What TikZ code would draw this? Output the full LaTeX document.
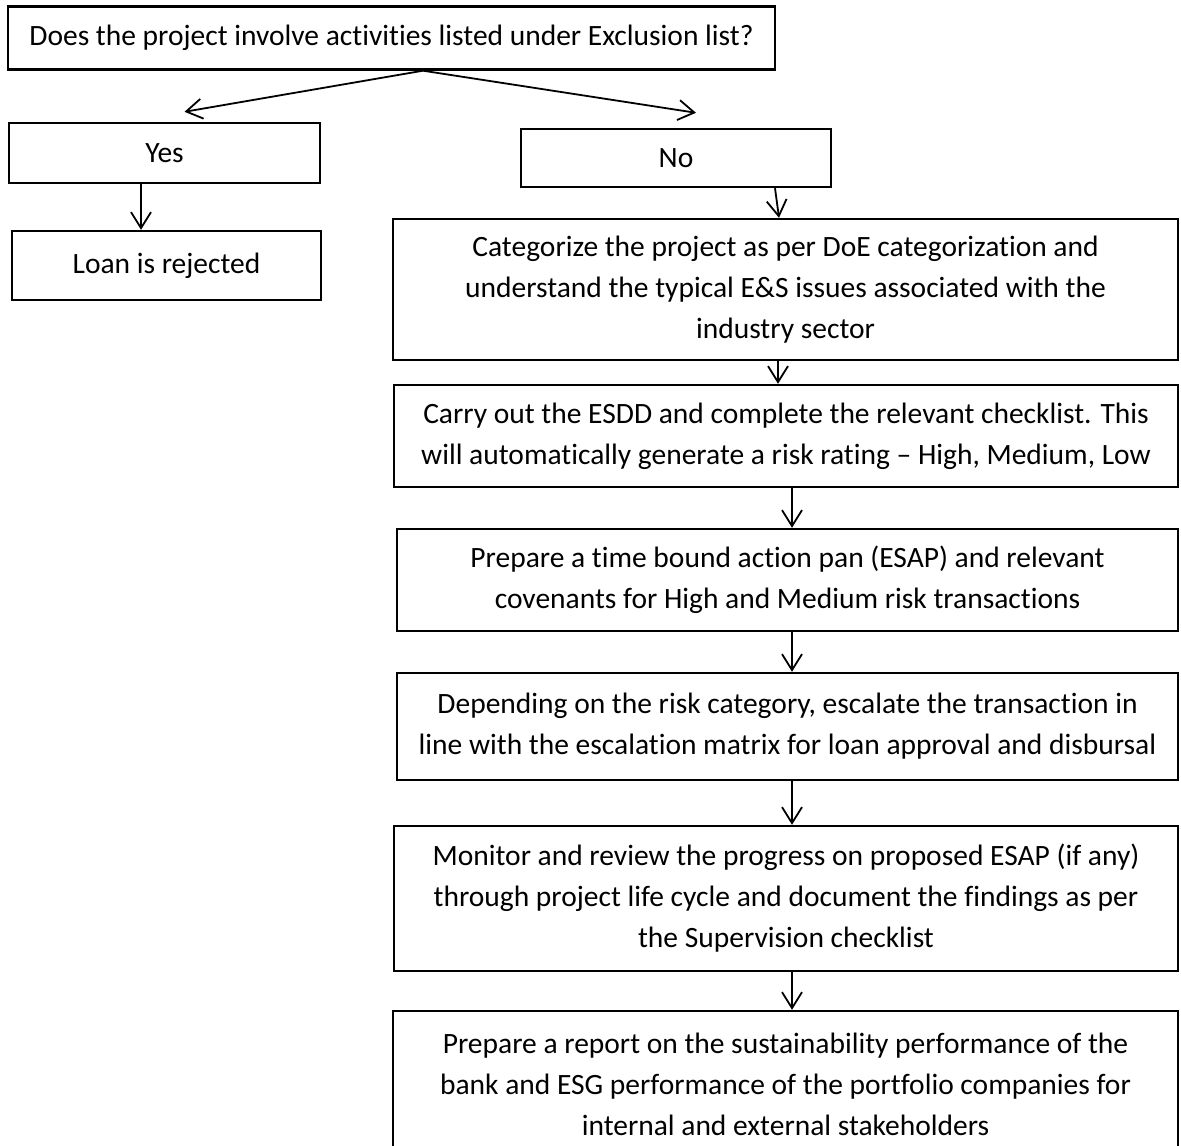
\documentclass[tikz,border=0pt]{standalone}
\usepackage{fontspec}
\setmainfont{Carlito}[RawFeature = {-liga;-clig;-calt;-dlig;-rlig}]
\usepackage{tikz}
\usetikzlibrary{arrows.meta}
\usetikzlibrary{calc}
\tikzstyle{stepbox} = [rectangle, draw = black, line width = 1.2pt, inner sep = 0, align = center, font = \fontsize{14.75}{20.5}\selectfont]
\tikzstyle{flow} = [-{Straight Barb[length = 8pt, width = 10pt]}, line width = 0.9pt]

\begin{document}
\begin{tikzpicture}[x = 0.5pt, y = -0.5pt]
\useasboundingbox (0, 0) rectangle (1181, 1145);
\node [stepbox, minimum width = 383.5pt, minimum height = 31.5pt] (Q) at (391.5, 38) {Does the project involve activities listed under Exclusion list?};
\node [stepbox, minimum width = 155.5pt, minimum height = 30pt] (Yes) at (164.5, 153) {Yes};
\node [stepbox, minimum width = 155pt, minimum height = 29pt] (No) at (676, 158) {No};
\node [stepbox, minimum width = 154.5pt, minimum height = 34.5pt] (Rej) at (166.5, 265.5) {Loan is rejected};
\node [stepbox, minimum width = 392.5pt, minimum height = 70.5pt] (Cat) at (785.5, 289.5) {Categorize the project as per DoE categorization and\\ understand the typical E\&S issues associated with the\\ industry sector};
\node [stepbox, minimum width = 392pt, minimum height = 51pt] (Esdd) at (786, 436) {Carry out the ESDD and complete the relevant checklist. This\\ will automatically generate a risk rating – High, Medium, Low};
\node [stepbox, minimum width = 390.5pt, minimum height = 51pt] (Esap) at (787.5, 580) {Prepare a time bound action pan (ESAP) and relevant\\ covenants for High and Medium risk transactions};
\node [stepbox, minimum width = 390.5pt, minimum height = 53.5pt] (Esc) at (787.5, 726.5) {Depending on the risk category, escalate the transaction in\\ line with the escalation matrix for loan approval and disbursal};
\node [stepbox, minimum width = 392pt, minimum height = 72.5pt] (Mon) at (786, 898.5) {Monitor and review the progress on proposed ESAP (if any)\\ through project life cycle and document the findings as per\\ the Supervision checklist};
\node [stepbox, minimum width = 392.5pt, minimum height = 73pt] (Rep) at (785.5, 1084) {Prepare a report on the sustainability performance of the\\ bank and ESG performance of the portfolio companies for\\ internal and external stakeholders};
\coordinate (Split) at ($(Q.south) + (15.75pt, 0)$);
\draw [flow] (Split) to ($(Yes.north) + (10pt, 5pt)$);
\draw [flow] (Split) to ($(No.north) + (10pt, 7.5pt)$);
\draw [flow] ([xshift = -11.75pt]Yes.south) to ([xshift = -12.75pt]Rej.north);
\draw [flow] ([xshift = 49.5pt]No.south) to ([xshift = -3.25pt]Cat.north);
\draw [flow] ([xshift = -3.75pt]Cat.south) to ([xshift = -4pt]Esdd.north);
\draw [flow] ([xshift = 3pt]Esdd.south) to ([xshift = 2.25pt]Esap.north);
\draw [flow] ([xshift = 2.25pt]Esap.south) to ([xshift = 2.25pt]Esc.north);
\draw [flow] ([xshift = 2.25pt]Esc.south) to ([xshift = 3pt]Mon.north);
\draw [flow] ([xshift = 3pt]Mon.south) to ([xshift = 3.25pt]Rep.north);
\end{tikzpicture}
\end{document}
